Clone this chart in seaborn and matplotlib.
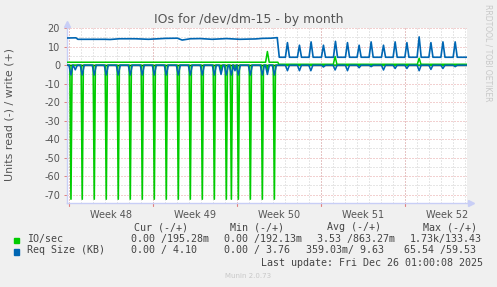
import numpy as np
import pandas as pd
import seaborn as sns
import matplotlib
matplotlib.use("Agg")
import matplotlib.pyplot as plt
from matplotlib.patches import Rectangle

# ---------------- data (x = days since Mon 24 Nov 2025 00:00) ----------------
x_start, x_end = -0.19, 33.1
week_bounds = [0, 7, 14, 21, 28]
week_centers = [3.5, 10.5, 17.5, 24.5, 31.5]
week_labels = ["Week 48", "Week 49", "Week 50", "Week 51", "Week 52"]
y_ticks = [20, 10, 0, -10, -20, -30, -40, -50, -60, -70]

step_day = 17.37

# IO/sec, read (drawn negative)
io_read_days = [0.14, 1.08, 2.08, 3.08, 4.08, 5.08, 6.08, 7.08, 8.08, 9.08,
                10.08, 11.08, 12.08, 12.64, 13.08, 13.5, 13.8, 14.08, 15.08,
                16.08, 16.5, 17.08]
io_read_vals = [72.4, 72.4, 72.4, 72.4, 72.4, 72.4, 72.4, 72.4, 72.4, 72.4,
                72.4, 72.4, 72.4, 3.5, 72.4, 72.4, 2.0, 72.4, 72.4,
                72.4, 3.0, 72.4]

# IO/sec, write (positive): level before / after the drop, plus spikes
io_write_levels = [1.6, 0.5]
io_write_spike_days = [16.5, 22.14, 29.14]
io_write_spike_vals = [5.8, 4.2, 3.3]

# Req size, read (drawn negative)
rq_read_days = [0.14, 0.5, 1.08, 2.08, 3.08, 4.08, 5.08, 6.08, 7.08, 8.08, 9.08,
                10.08, 11.08, 12.08, 12.64, 13.08, 13.5, 13.8, 14.08, 15.08,
                16.08, 16.5, 17.08, 18.17, 19.17, 20.12, 21.17, 22.14, 23.17,
                24.14, 25.14, 26.17, 27.14, 28.12, 29.14, 30.12, 31.12, 32.14]
rq_read_vals = [5.3, 2.5, 5.3, 5.3, 5.3, 5.3, 5.3, 5.3, 5.3, 5.3, 5.3,
                5.3, 5.3, 5.3, 5.0, 5.3, 5.3, 3.0, 5.3, 5.3,
                5.3, 5.0, 5.3, 3.0, 3.0, 3.0, 1.0, 2.6, 3.0,
                1.4, 0.8, 2.6, 1.8, 1.8, 3.0, 2.3, 1.8, 0.8]

# Req size, write (positive): wandering level before the drop
rq_write_pre_days = [-0.19, 0.55, 0.72, 3.0, 3.4, 4.2, 5.5, 6.6, 8.0, 9.0,
                     9.4, 10.1, 10.9, 11.9, 13.1, 14.2, 15.5, 16.1, 16.8, 17.32]
rq_write_pre_vals = [14.7, 14.8, 14.0, 14.0, 13.9, 14.3, 14.3, 14.0, 14.5, 14.6,
                     13.6, 14.3, 14.4, 14.0, 14.4, 14.0, 14.2, 14.5, 14.6, 14.9]
rq_write_level = 4.3
rq_write_spike_days = [18.17, 19.17, 20.14, 21.17, 22.17, 23.17, 24.14, 25.14,
                       26.17, 27.14, 28.12, 29.14, 30.12, 31.12, 32.14]
rq_write_spike_vals = [7.9, 6.5, 8.3, 6.5, 8.6, 7.9, 6.5, 8.3,
                       6.5, 8.3, 7.9, 11.0, 7.9, 8.3, 8.3]

GREEN = "#00CC00"
BLUE = "#0066B3"


def spiky(a, b, level, days, vals, hw, sign=1.0):
    """Polyline at constant level from a to b with triangular spikes."""
    xs, ys = [a], [level]
    for d, v in sorted(zip(days, vals)):
        if a <= d < b:
            xs += [d - hw, d, d + hw]
            ys += [level, level + sign * v, level]
    xs.append(b)
    ys.append(level)
    return xs, ys


# build line tables
gx, gy = spiky(x_start, x_end, 0.0, io_read_days, io_read_vals, 0.09, -1)
io_read = pd.DataFrame({"day": gx, "v": gy})

wx1, wy1 = spiky(x_start, step_day, io_write_levels[0], io_write_spike_days,
                 io_write_spike_vals, 0.15)
wx2, wy2 = spiky(step_day + 0.08, x_end, io_write_levels[1], io_write_spike_days,
                 io_write_spike_vals, 0.15)
io_write = pd.DataFrame({"day": wx1 + wx2, "v": wy1 + wy2})

bx, by = spiky(x_start, x_end, 0.0, rq_read_days, rq_read_vals, 0.17, -1)
rq_read = pd.DataFrame({"day": bx, "v": by})

px2, py2 = spiky(step_day + 0.12, x_end, rq_write_level, rq_write_spike_days,
                 rq_write_spike_vals, 0.17)
rq_write = pd.DataFrame({"day": rq_write_pre_days + px2,
                         "v": rq_write_pre_vals + py2})

# ---------------- style ----------------
sns.set_theme(style="white")
plt.rcParams["font.family"] = ["DejaVu Sans"]
plt.rcParams["axes.unicode_minus"] = False

W, H = 497, 287
fig = plt.figure(figsize=(W / 100, H / 100), dpi=100, facecolor="#F0F0F0")
L, R, T, B = 67, 466.7, 27.5, 203.3
ax = fig.add_axes([L / W, 1 - B / H, (R - L) / W, (B - T) / H])
ax.set_facecolor("white")

ax.set_xlim(x_start, x_end)
ax.set_ylim(-74.65, 20.38)

# grid
MINOR = "#CFCFCF"
MAJOR = "#E6A3A3"
DOT = (0, (1, 2))
ax.set_xticks(np.arange(0, 34), minor=True)
ax.set_yticks(np.arange(-70, 21, 5), minor=True)
ax.grid(which="minor", axis="both", color=MINOR, lw=0.72, ls=DOT)
for v in y_ticks:
    ax.axhline(v, color=MAJOR, lw=0.72, ls=DOT, zorder=1)
for d in week_bounds:
    ax.axvline(d, color=MAJOR, lw=0.72, ls=DOT, zorder=1)
    ax.axvline(d, ymin=-0.018, ymax=0, color="#E08080", lw=0.8, clip_on=False)

ax.set_xticks(week_centers)
ax.set_xticklabels(week_labels)
ax.set_yticks(y_ticks)
ax.set_yticklabels([str(v) for v in y_ticks])
ax.tick_params(axis="x", which="major", length=0, pad=5, labelsize=7,
               labelcolor="#555555")
ax.tick_params(axis="y", which="major", length=2, width=0.7, color="#E08080",
               pad=3, labelsize=7, labelcolor="#555555", left=True)
ax.tick_params(which="minor", length=0)

for s in ["top", "right"]:
    ax.spines[s].set_visible(False)
for s in ["left", "bottom"]:
    ax.spines[s].set_color("#C8CEF6")
    ax.spines[s].set_linewidth(1.0)
ax.plot([1.012], [0.0], marker=">", color="#C8CEF6", ms=4, transform=ax.transAxes,
        clip_on=False)
ax.plot([0.0], [1.02], marker="^", color="#C8CEF6", ms=4, transform=ax.transAxes,
        clip_on=False)

# zero rule
ax.axhline(0, color="black", lw=1.0, zorder=2)

# series (Req Size drawn after IO/sec, as in the original)
sns.lineplot(data=io_read, x="day", y="v", ax=ax, color=GREEN, lw=1.2,
             sort=False, estimator=None, zorder=3)
sns.lineplot(data=io_write, x="day", y="v", ax=ax, color=GREEN, lw=1.1,
             sort=False, estimator=None, zorder=3)
sns.lineplot(data=rq_read, x="day", y="v", ax=ax, color=BLUE, lw=1.1,
             sort=False, estimator=None, zorder=4)
sns.lineplot(data=rq_write, x="day", y="v", ax=ax, color=BLUE, lw=1.2,
             sort=False, estimator=None, zorder=4)
ax.set_xlabel("")
ax.set_ylabel("")

# ---------------- texts ----------------
def ft(x, y, s, **kw):
    fig.text(x / W, 1 - y / H, s, **kw)

TXT = "#555555"
ft(248.3, 19, "IOs for /dev/dm-15 - by month", ha="center", va="center",
   fontsize=9, color=TXT)
ft(10, 114.5, "Units read (-) / write (+)", ha="center", va="center",
   rotation=90, fontsize=7.9, color=TXT)
ft(487.7, 53, "RRDTOOL / TOBI OETIKER", ha="center", va="center",
   rotation=-90, fontsize=5.5, color="#C8C8C8")

MONO = dict(family="DejaVu Sans Mono", fontsize=7.2, color="#444444",
            va="center", ha="left")
y_head, y_r1, y_r2, y_lu = 227.3, 238.6, 250.2, 263.3
fig.add_artist(Rectangle((14 / W, 1 - 243 / H), 5.3 / W, 5.3 / H,
                         transform=fig.transFigure, color=GREEN))
fig.add_artist(Rectangle((14 / W, 1 - 254.6 / H), 5.3 / W, 5.3 / H,
                         transform=fig.transFigure, color=BLUE))
ft(26.7, y_r1, "IO/sec", **MONO)
ft(26.7, y_r2, "Req Size (KB)", **MONO)

headers = [(134, "Cur (-/+)"), (230, "Min (-/+)"), (327.3, "Avg (-/+)"),
           (423.3, "Max (-/+)")]
row1 = [(131, "0.00 /195.28m"), (224.3, "0.00 /192.13m"),
        (317.3, "3.53 /863.27m"), (410, "1.73k/133.43")]
row2 = [(131, "0.00 / 4.10"), (224.3, "0.00 / 3.76"), (305.7, "359.03m/ 9.63"),
        (404.3, "65.54 /59.53")]
for x, s in headers:
    ft(x, y_head, s, **MONO)
for x, s in row1:
    ft(x, y_r1, s, **MONO)
for x, s in row2:
    ft(x, y_r2, s, **MONO)
ft(261, y_lu, "Last update: Fri Dec 26 01:00:08 2025", **MONO)
ft(248, 276, "Munin 2.0.73", ha="center", va="center", fontsize=5,
   color="#C8C8C8")

fig.savefig("out.png", dpi=100, facecolor=fig.get_facecolor())
